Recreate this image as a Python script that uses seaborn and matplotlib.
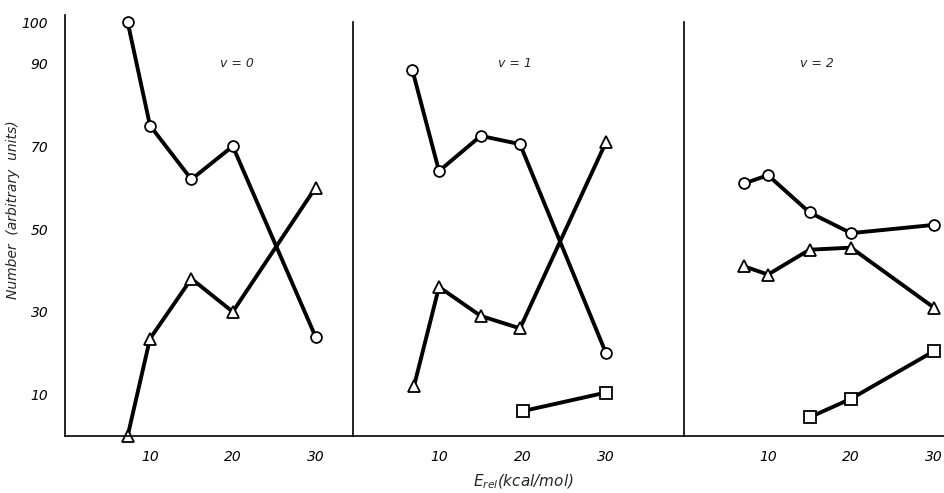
import matplotlib
matplotlib.use("Agg")
import matplotlib.pyplot as plt
import seaborn as sns
import pandas as pd

# ---- data ----
panels = ["v = 0", "v = 1", "v = 2"]

v0_circle_x = [7.3, 10, 15, 20, 30]
v0_circle_y = [100, 75, 62, 70, 24]
v0_tri_x = [7.3, 10, 15, 20, 30]
v0_tri_y = [0, 23.5, 38, 30, 60]

v1_circle_x = [6.8, 10, 15, 19.7, 30]
v1_circle_y = [88.5, 64, 72.5, 70.5, 20]
v1_tri_x = [7, 10, 15, 19.7, 30]
v1_tri_y = [12, 36, 29, 26, 71]
v1_sq_x = [20, 30]
v1_sq_y = [6, 10.5]

v2_circle_x = [7.1, 10, 15, 20, 30]
v2_circle_y = [61, 63, 54, 49, 51]
v2_tri_x = [7.1, 10, 15, 20, 30]
v2_tri_y = [41, 39, 45, 45.5, 31]
v2_sq_x = [15, 20, 30]
v2_sq_y = [4.5, 9, 20.5]

x_ticks = [10, 20, 30]
y_ticks = [10, 30, 50, 70, 90, 100]

series = {
    0: [("o", v0_circle_x, v0_circle_y), ("^", v0_tri_x, v0_tri_y)],
    1: [("o", v1_circle_x, v1_circle_y), ("^", v1_tri_x, v1_tri_y), ("s", v1_sq_x, v1_sq_y)],
    2: [("o", v2_circle_x, v2_circle_y), ("^", v2_tri_x, v2_tri_y), ("s", v2_sq_x, v2_sq_y)],
}

# ---- styling ----
sns.set_style("white")
plt.rcParams["font.family"] = ["DejaVu Sans"]
plt.rcParams["font.style"] = "italic"
plt.rcParams["mathtext.fontset"] = "dejavusans"

fig = plt.figure(figsize=(9.44, 4.93), dpi=100)
gs = fig.add_gridspec(1, 3, width_ratios=[288, 331, 260],
                      left=65 / 944, right=1.0, bottom=1 - 436 / 493,
                      top=1 - 15 / 493, wspace=0)
xlims = [(-0.27, 34.53), (-0.30, 39.34), (-0.12, 31.2)]
label_pos = [(20.5, 90), (19.1, 90), (15.9, 90)]
msize = {"o": 7.8, "^": 8.2, "s": 8.2}

axes = []
for i in range(3):
    ax = fig.add_subplot(gs[0, i])
    axes.append(ax)
    for m, xs, ys in series[i]:
        df = pd.DataFrame({"x": xs, "y": ys})
        sns.lineplot(data=df, x="x", y="y", ax=ax, color="black", lw=2.8,
                     marker=m, markersize=msize[m], markerfacecolor="white",
                     markeredgecolor="black", markeredgewidth=1.3,
                     estimator=None, sort=False, clip_on=False)
    ax.set_xlim(*xlims[i])
    ax.set_ylim(0, 101.7)
    ax.set_xticks(x_ticks)
    ax.set_xticklabels([str(t) for t in x_ticks], fontsize=10, style="italic")
    ax.tick_params(axis="x", direction="in", length=4, width=1.2, pad=10, colors="black")
    ax.set_xlabel("")
    ax.set_ylabel("")
    for s in ["top", "right"]:
        ax.spines[s].set_visible(False)
    for s in ["left", "bottom"]:
        ax.spines[s].set_color("black")
        ax.spines[s].set_linewidth(1.2)
    if i == 0:
        ax.set_yticks(y_ticks)
        ax.set_yticklabels([str(t) for t in y_ticks], fontsize=10, style="italic")
        ax.tick_params(axis="y", direction="in", length=4, width=1.2, pad=12, colors="black")
        ax.set_ylabel("Number  (arbitrary  units)", fontsize=10, style="italic")
        ax.yaxis.set_label_coords(-0.156, 0.537)
    else:
        ax.set_yticks([])
        ax.tick_params(left=False, labelleft=False)
        ax.spines["left"].set_bounds(0, 100)
    ax.text(label_pos[i][0], label_pos[i][1], panels[i], fontsize=9, style="italic",
            ha="center", va="center")

fig.text(523 / 944, 1 - 482 / 493, r"$E_{rel}$(kcal/mol)", fontsize=11, style="italic",
         ha="center", va="center")

fig.savefig("out.png", dpi=100)
